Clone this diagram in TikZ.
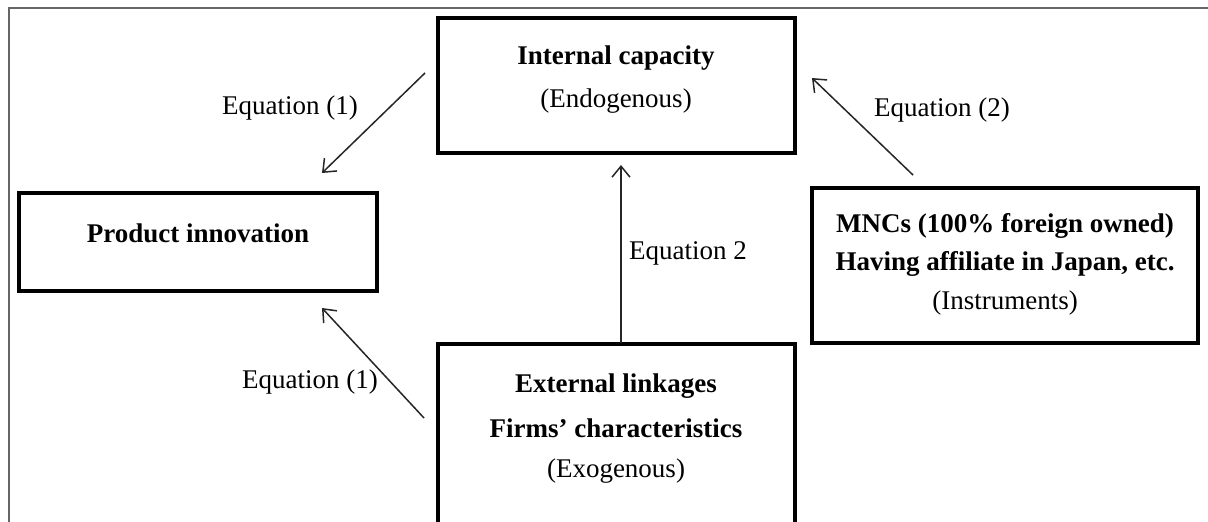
\documentclass[tikz,border=0pt]{standalone}
\usepackage{fontspec}
\setmainfont{Liberation Serif}
\usetikzlibrary{arrows.meta}
\begin{document}
\begin{tikzpicture}[x=1pt,y=-1pt,
  box/.style={draw=black,line width=4.5pt,inner sep=0pt},
  lbl/.style={font=\fontsize{27}{32}\selectfont,inner sep=0pt},
  blbl/.style={font=\fontsize{27}{32}\selectfont\bfseries,inner sep=0pt},
  arr/.style={draw=black!85,line width=1.5pt,-{Straight Barb[length=11pt,width=18pt,line width=1.5pt]}}]
\useasboundingbox (0,0) rectangle (1208,522);
\fill[white] (0,0) rectangle (1208,522);
\draw[gray!80!black,line width=2pt] (9,530) -- (9,8) -- (1210,8);
% boxes
\node[box,minimum width=357pt,minimum height=135pt] (ic) at (616.5,85.5) {};
\node[box,minimum width=358pt,minimum height=98pt] (pi) at (198,242) {};
\node[box,minimum width=357pt,minimum height=180pt] (ex) at (616.5,434) {};
\node[box,minimum width=386pt,minimum height=155pt] (mnc) at (1005,265.5) {};
% texts
\node[blbl] (t1) at (616,58) {Internal capacity};
\node[lbl] (t2) at (616,101) {(Endogenous)};
\node[blbl] (t3) at (198,233) {Product innovation};
\node[blbl] (t4) at (616,386) {External linkages};
\node[blbl] (t5) at (616,428) {Firms’ characteristics};
\node[lbl] (t6) at (616,471) {(Exogenous)};
\node[blbl] (t7) at (1005,226) {MNCs (100\% foreign owned)};
\node[blbl] (t8) at (1005,264) {Having affiliate in Japan, etc.};
\node[lbl] (t9) at (1005,303) {(Instruments)};
% connector ends
\coordinate (a1s) at (425,73);
\coordinate (a1e) at (322,173);
\coordinate (a2s) at (424,418);
\coordinate (a2e) at (322,308);
\coordinate (a3s) at (621,343);
\coordinate (a3e) at (621,165);
\coordinate (a4s) at (913,175);
\coordinate (a4e) at (812,78);
\draw[arr] (a1s) -- (a1e);
\draw[arr] (a2s) -- (a2e);
\draw[arr] (a3s) -- (a3e);
\draw[arr] (a4s) -- (a4e);
% labels
\node[lbl] (e1) at (290,108) {Equation (1)};
\node[lbl] (e2) at (310,382) {Equation (1)};
\node[lbl] (e3) at (688,253) {Equation 2};
\node[lbl] (e4) at (942,110) {Equation (2)};
\end{tikzpicture}
\end{document}
